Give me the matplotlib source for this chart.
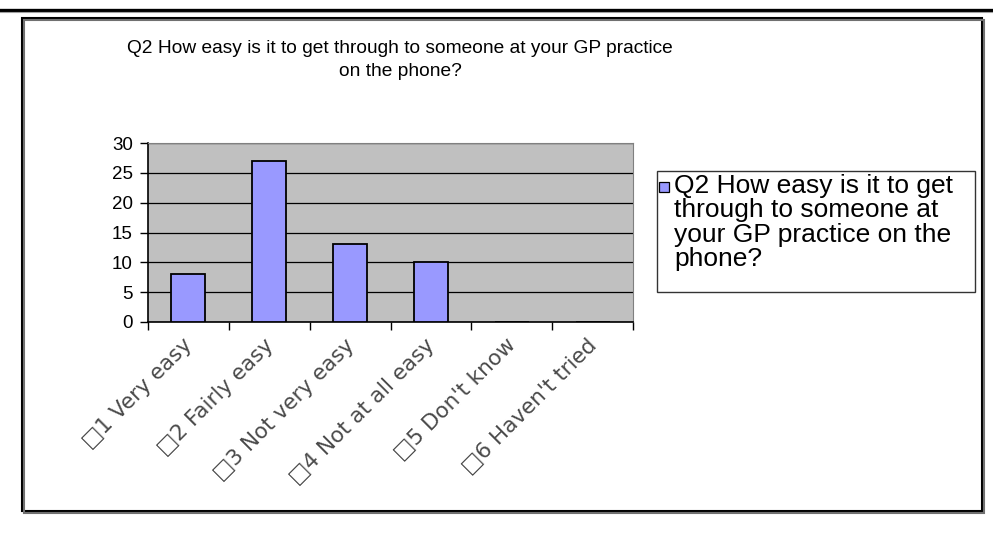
import matplotlib.pyplot as plt
from matplotlib.patches import Rectangle
from matplotlib.lines import Line2D

categories = ["\u25a11 Very easy", "\u25a12 Fairly easy", "\u25a13 Not very easy",
              "\u25a14 Not at all easy", "\u25a15 Don't know", "\u25a16 Haven't tried"]
counts = [8, 27, 13, 10, 0, 0]
yticks = [0, 5, 10, 15, 20, 25, 30]
title = "Q2 How easy is it to get through to someone at your GP practice\non the phone?"
series_name = "Q2 How easy is it to get\nthrough to someone at\nyour GP practice on the\nphone?"

W, H = 993, 538
plt.rcParams['font.family'] = ['Liberation Sans', 'DejaVu Sans']

fig = plt.figure(figsize=(W / 100, H / 100), dpi=100)


def fx(px):
    return px / W


def fy(py):
    return 1 - py / H


# rule across the top of the page
fig.add_artist(Line2D([0, 1], [fy(9.5), fy(9.5)], color='black', lw=2.4))
fig.add_artist(Line2D([0, 1], [fy(11.5), fy(11.5)], color='#a0a0a0', lw=0.8))

# chart frame with a small shadow
fig.add_artist(Rectangle((fx(24), fy(513)), fx(982 - 22), (511 - 18) / H,
                         facecolor='none', edgecolor='#707070', lw=1.5))
fig.add_artist(Rectangle((fx(22), fy(511)), fx(982 - 22), (511 - 18) / H,
                         facecolor='white', edgecolor='black', lw=1.5, zorder=0))

ax = fig.add_axes([fx(148), fy(322), fx(633 - 148), (322 - 143) / H])
ax.set_facecolor('#c0c0c0')
x = list(range(len(categories)))
ax.bar(x, counts, width=0.42, color='#9999ff', edgecolor='black', linewidth=1.3, zorder=3)

ax.set_xlim(-0.5, len(categories) - 0.5)
ax.set_ylim(0, 30)
ax.set_yticks(yticks)
ax.yaxis.grid(True, color='black', lw=0.9, zorder=1)
ax.set_axisbelow(True)
ax.tick_params(axis='y', labelsize=13.5, length=6, width=1, direction='out', pad=5)

# tick marks sit between the categories, labels under each centre
ax.set_xticks([i - 0.5 for i in range(len(categories) + 1)])
ax.set_xticklabels([])
ax.tick_params(axis='x', length=6, width=1, direction='out')
for i, lab in enumerate(categories):
    ax.annotate(lab, xy=(i, 0), xycoords=('data', 'axes fraction'),
                xytext=(1, -20), textcoords='offset pixels',
                rotation=45, rotation_mode='anchor', ha='right', va='center',
                fontsize=15.5, family=['DejaVu Sans'], color='#4a4a4a')

for side in ['top', 'right']:
    ax.spines[side].set_color('#808080')
for side in ['left', 'bottom']:
    ax.spines[side].set_color('black')
    ax.spines[side].set_linewidth(1.2)

fig.text(fx(400), fy(60), title, ha='center', va='center', fontsize=13.8,
         linespacing=1.4)

# legend box
fig.add_artist(Rectangle((fx(657), fy(292)), fx(975 - 657), (292 - 171) / H,
                         facecolor='white', edgecolor='#333333', lw=1.0))
fig.add_artist(Rectangle((fx(659), fy(192)), fx(10), 10 / H,
                         facecolor='#9999ff', edgecolor='black', lw=0.9))
fig.text(fx(674), fy(174), series_name, ha='left', va='top', fontsize=19,
         linespacing=1.02)

fig.savefig('out.png', dpi=100)
